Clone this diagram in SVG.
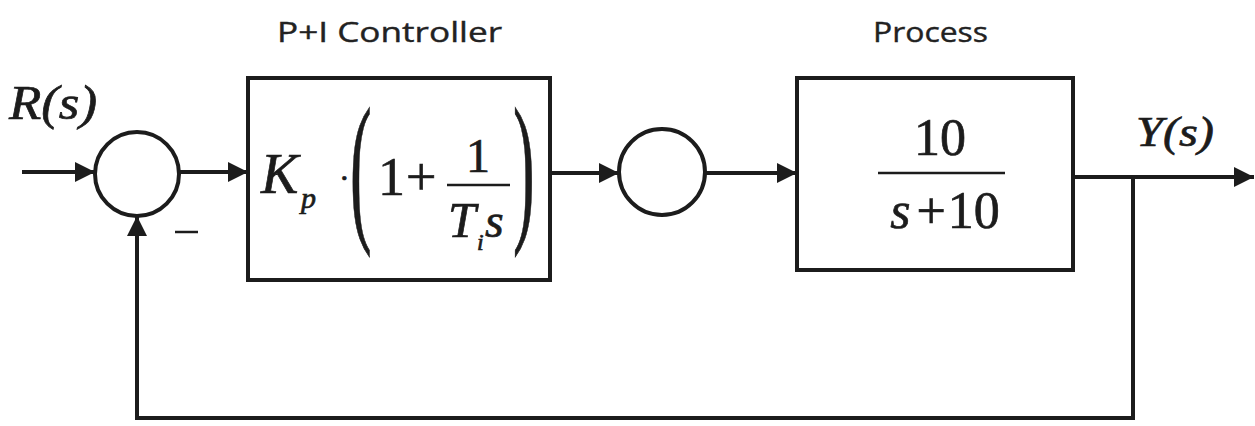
<svg xmlns="http://www.w3.org/2000/svg" width="1255" height="426" viewBox="0 0 1255 426">
  <defs>
    <style>
      .ln{stroke:#1c1c1c;stroke-width:4;fill:none}
      .box{stroke:#1c1c1c;stroke-width:4;fill:#fff}
      .bar{stroke:#1c1c1c;stroke-width:2.5}
      .minus{stroke:#1c1c1c;stroke-width:2.5}
      .lbl{font-family:"Open Sans","Liberation Sans",sans-serif;font-size:28px;fill:#222;stroke:#222;stroke-width:0.4}
      .mi{font-family:"Liberation Serif","Times New Roman",serif;font-style:italic;fill:#1c1c1c;stroke:#1c1c1c;stroke-width:0.7}
      .mr{font-family:"Liberation Serif","Times New Roman",serif;fill:#1c1c1c;stroke:#1c1c1c;stroke-width:0.7}
      .thin{stroke-width:0.3}
    </style>
    <marker id="ah" viewBox="0 0 10 10" refX="10" refY="5" markerWidth="5" markerHeight="5" markerUnits="strokeWidth" orient="auto">
      <path d="M0,0 L10,5 L0,10 z" fill="#1c1c1c"/>
    </marker>
  </defs>
  <rect width="1255" height="426" fill="#fff"/>

  <text class="lbl" x="277" y="42" textLength="225" lengthAdjust="spacingAndGlyphs">P+I Controller</text>
  <text class="lbl" x="873" y="42" textLength="115" lengthAdjust="spacingAndGlyphs">Process</text>

  <text class="mi" x="9" y="119" font-size="48" textLength="88" lengthAdjust="spacingAndGlyphs">R(s)</text>
  <text class="mi" x="1136" y="146" font-size="42" textLength="78" lengthAdjust="spacingAndGlyphs">Y(s)</text>

  <g id="sum1">
    <circle class="ln" cx="137" cy="174" r="42"/>
    <line class="minus" x1="175" y1="232" x2="198" y2="232"/>
  </g>

  <g id="controller">
    <rect class="box" x="248" y="78" width="302" height="202"/>
    <text class="mi" x="261" y="193" font-size="56">K</text>
    <text class="mi" x="301" y="208" font-size="30">p</text>
    <text class="mr" x="339" y="189" font-size="32">·</text>
    <text class="mr thin" transform="translate(350,222) scale(1.3,3.3)" font-size="50">(</text>
    <text class="mr" x="378" y="195" font-size="54">1</text>
    <text class="mr" x="406" y="195" font-size="54">+</text>
    <line class="bar" x1="447" y1="185" x2="510" y2="185"/>
    <text class="mr" x="466" y="172" font-size="48">1</text>
    <text class="mi" x="448" y="237" font-size="50">T</text>
    <text class="mi" x="477" y="250" font-size="24">i</text>
    <text class="mi" x="485" y="237" font-size="48">s</text>
    <text class="mr thin" transform="translate(513,222) scale(1.3,3.3)" font-size="50">)</text>
  </g>

  <g id="sum2">
    <circle class="ln" cx="662" cy="172" r="43"/>
  </g>

  <g id="process">
    <rect class="box" x="797" y="78" width="276" height="192"/>
    <text class="mr" x="940" y="155" font-size="52" text-anchor="middle">10</text>
    <line class="bar" x1="878" y1="173" x2="1005" y2="173"/>
    <text class="mr" x="945" y="228" font-size="52" text-anchor="middle"><tspan class="mi">s</tspan><tspan dx="6">+</tspan><tspan dx="2">10</tspan></text>
  </g>

  <g id="connectors">
    <line class="ln" x1="22" y1="172" x2="95" y2="172" marker-end="url(#ah)"/>
    <line class="ln" x1="179" y1="172" x2="248" y2="172" marker-end="url(#ah)"/>
    <line class="ln" x1="550" y1="173" x2="619" y2="173" marker-end="url(#ah)"/>
    <line class="ln" x1="705" y1="173" x2="797" y2="173" marker-end="url(#ah)"/>
    <line class="ln" x1="1073" y1="177" x2="1254" y2="177" marker-end="url(#ah)"/>
    <polyline class="ln" points="1133,177 1133,418 137,418 137,216" marker-end="url(#ah)"/>
  </g>
</svg>
